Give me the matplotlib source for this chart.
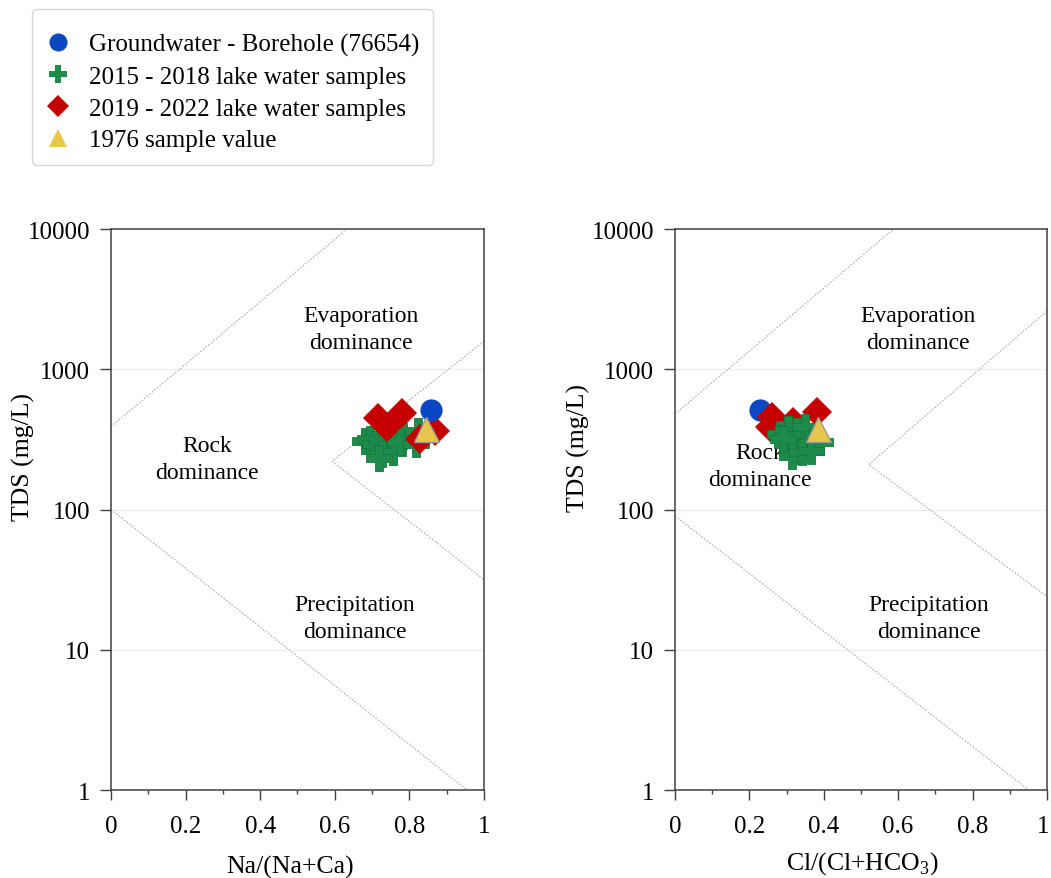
import matplotlib
matplotlib.use('Agg')
import matplotlib.pyplot as plt
from matplotlib.lines import Line2D
from matplotlib.transforms import ScaledTranslation

plt.rcParams['font.family'] = ['Liberation Serif', 'DejaVu Serif']
plt.rcParams['mathtext.fontset'] = 'custom'
plt.rcParams['mathtext.rm'] = 'Liberation Serif'

# groundwater borehole
gw_na = [0.858]
gw_cl = [0.228]
gw_tds = [510]

# 1976 sample
s76_na = [0.845]
s76_cl = [0.385]
s76_tds = [375]

# 2015 - 2018 lake samples
l1518_na = [0.681, 0.694, 0.708, 0.726, 0.739, 0.752, 0.726, 0.757, 0.784, 0.775, 0.719, 0.822, 0.819]
l1518_na_tds = [309, 318, 293, 318, 277, 318, 249, 256, 336, 301, 233, 365, 293]
l1518_cl = [0.282, 0.305, 0.327, 0.349, 0.300, 0.323, 0.358, 0.372, 0.390, 0.314, 0.341, 0.291, 0.367]
l1518_cl_tds = [345, 375, 365, 385, 293, 262, 293, 309, 301, 242, 256, 318, 262]

# 2019 - 2022 lake samples
l1922_na = [0.717, 0.779, 0.741, 0.828, 0.869]
l1922_na_tds = [449, 485, 385, 318, 361]
l1922_cl = [0.260, 0.318, 0.381, 0.255]
l1922_cl_tds = [454, 419, 493, 385]

# Gibbs boundaries (x, TDS)
na_upper = ([0, 0.633], [390, 10000])
na_lower = ([0, 0.955], [100, 1])
na_chevron = ([1, 0.593, 1], [1585, 221, 31.6])
cl_upper = ([0, 0.588], [480, 10000])
cl_lower = ([0, 0.951], [90, 1])
cl_chevron = ([1, 0.521, 1], [2600, 209, 24])

blue = '#0a47c2'
green = '#1d8c4a'
red = '#c40000'
yellow = '#e8c64c'

fig = plt.figure(figsize=(10.51, 8.79), dpi=100)
ax1 = fig.add_axes([0.1056, 0.1001, 0.3549, 0.6382])
ax2 = fig.add_axes([0.6422, 0.1001, 0.3539, 0.6382])


def setup(ax, xlabel, lab_x, lab_y, xlab_x, xlab_y):
    ax.set_yscale('log')
    ax.set_xlim(0, 1)
    ax.set_ylim(1, 10000)
    ax.set_xticks([0, 0.2, 0.4, 0.6, 0.8, 1.0])
    ax.set_xticklabels(['0', '0.2', '0.4', '0.6', '0.8', '1'])
    ax.set_xticks([0.1, 0.3, 0.5, 0.7, 0.9], minor=True)
    ax.set_yticks([1, 10, 100, 1000, 10000])
    ax.set_yticklabels(['1', '10', '100', '1000', '10000'])
    ax.yaxis.set_minor_locator(matplotlib.ticker.NullLocator())
    ax.tick_params(axis='both', which='major', labelsize=18, color='#404040', width=1.0)
    ax.tick_params(axis='x', which='major', length=7, pad=11)
    ax.tick_params(axis='x', which='minor', length=3, color='#404040', width=1.0)
    ax.tick_params(axis='y', which='major', length=8, pad=7)
    for s in ax.spines.values():
        s.set_color('#404040')
        s.set_linewidth(1.1)
    for v in [10, 100, 1000]:
        ax.axhline(v, color='#ececec', lw=0.9, zorder=0)
    ax.set_ylabel('TDS (mg/L)', fontsize=18.5)
    ax.yaxis.set_label_coords(lab_x, lab_y)
    ax.set_xlabel(xlabel, fontsize=18.5)
    ax.xaxis.set_label_coords(xlab_x, xlab_y)


def bounds(ax, lines):
    for xs, ys in lines:
        ax.plot(xs, ys, color='#ababab', lw=0.8, ls=(0, (1.5, 1.5)), zorder=1)


setup(ax1, 'Na/(Na+Ca)', -0.204, 0.595, 0.48, -0.116)
setup(ax2, r'Cl/(Cl+HCO$_3$)', -0.228, 0.612, 0.503, -0.106)
bounds(ax1, [na_upper, na_lower, na_chevron])
bounds(ax2, [cl_upper, cl_lower, cl_chevron])

# keep the last "1" of the right panel inside the figure edge
last = ax2.get_xticklabels()[-1]
last.set_transform(last.get_transform() + ScaledTranslation(-0.035, 0, fig.dpi_scale_trans))

tk = dict(fontsize=17, ha='center', va='center', linespacing=1.35)
ax1.text(0.67, 1937, 'Evaporation\ndominance', **tk)
ax1.text(0.257, 229, 'Rock\ndominance', **tk)
ax1.text(0.654, 16.8, 'Precipitation\ndominance', **tk)
ax2.text(0.653, 1937, 'Evaporation\ndominance', **tk)
ax2.text(0.228, 204, 'Rock\ndominance', **tk)
ax2.text(0.683, 16.8, 'Precipitation\ndominance', **tk)

# left panel: green, red, blue, yellow
ax1.plot(l1518_na, l1518_na_tds, 'P', color=green, ms=19, mec='#17783c', mew=0.6, ls='none', zorder=3)
ax1.plot(l1922_na, l1922_na_tds, 'D', color=red, ms=15.5, mew=0, ls='none', zorder=4)
ax1.plot(gw_na, gw_tds, 'o', color=blue, ms=16, mew=0, ls='none', zorder=5)
ax1.plot(s76_na, s76_tds, '^', color=yellow, ms=18, mec='#9a9a9a', mew=1.0, ls='none', zorder=6)

# right panel: blue, red, green, yellow
ax2.plot(gw_cl, gw_tds, 'o', color=blue, ms=16, mew=0, ls='none', zorder=3)
ax2.plot(l1922_cl, l1922_cl_tds, 'D', color=red, ms=15.5, mew=0, ls='none', zorder=4)
ax2.plot(l1518_cl, l1518_cl_tds, 'P', color=green, ms=19, mec='#17783c', mew=0.6, ls='none', zorder=5)
ax2.plot(s76_cl, s76_tds, '^', color=yellow, ms=18, mec='#9a9a9a', mew=1.0, ls='none', zorder=6)

handles = [
    Line2D([], [], marker='o', color=blue, ms=13, ls='none', mew=0),
    Line2D([], [], marker='P', color=green, ms=13.5, ls='none', mew=0),
    Line2D([], [], marker='D', color=red, ms=11, ls='none', mew=0),
    Line2D([], [], marker='^', color=yellow, ms=13.5, ls='none', mew=0),
]
labels = ['Groundwater - Borehole (76654)', '2015 - 2018 lake water samples',
          '2019 - 2022 lake water samples', '1976 sample value']
leg = fig.legend(handles, labels, loc='upper left', bbox_to_anchor=(32 / 1051, 1 - 10 / 879),
                 borderaxespad=0, fontsize=18, handlelength=1.0, handletextpad=0.74,
                 borderpad=0.55, labelspacing=0.37, frameon=True, fancybox=True,
                 title=' ', title_fontsize=1)
leg.get_frame().set_edgecolor('#cccccc')
leg.get_frame().set_linewidth(1.0)

fig.savefig('out.png', dpi=100)
